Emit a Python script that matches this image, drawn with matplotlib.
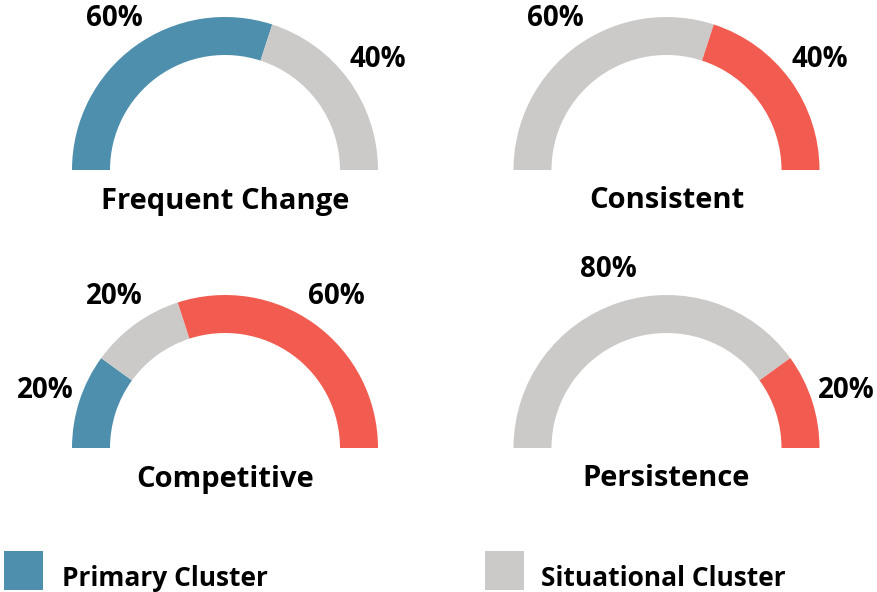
import numpy as np
import matplotlib.pyplot as plt
from matplotlib.patches import Rectangle

plt.rcParams['font.family'] = ['Open Sans', 'DejaVu Sans']

titles = ['Frequent Change', 'Consistent', 'Competitive', 'Persistence']
primary = [60, 0, 20, 0]
situational = [40, 60, 20, 80]
other = [0, 40, 60, 20]
legend_names = ['Primary Cluster', 'Situational Cluster']

c_primary = '#4d8fac'
c_situational = '#cbcac8'
c_other = '#f25c50'

W, H = 878, 592
fig = plt.figure(figsize=(W / 100, H / 100), dpi=100)
ax = fig.add_axes([0, 0, 1, 1])

# gauge centres in pixel space (y measured from the bottom)
centres = [(225, H - 170), (666.5, H - 170), (225, H - 448), (666.5, H - 448)]
R, width = 153, 38

for k, title in enumerate(titles):
    vals = [primary[k], situational[k], other[k]]
    cols = [c_primary, c_situational, c_other]
    keep = [(v, c) for v, c in zip(vals, cols) if v > 0]
    v_list = [v for v, _ in keep]
    c_list = [c for _, c in keep]
    total = sum(v_list)
    cx, cy = centres[k]
    wedges, _ = ax.pie(v_list + [total], colors=c_list + ['white'], startangle=180,
                       counterclock=False, radius=R, center=(cx, cy),
                       wedgeprops=dict(width=width, linewidth=0))
    wedges[-1].set_visible(False)
    # labels at segment midpoints
    start = 180.0
    for v in v_list:
        span = 180.0 * v / total
        mid = np.deg2rad(start - span / 2)
        ax.text(cx + 189 * np.cos(mid), cy + 189 * np.sin(mid) - 1, '%d%%' % v,
                ha='center', va='center', fontsize=20, fontweight='bold', color='black')
        start -= span
    ax.text(cx, cy - 31, title, ha='center', va='center', fontsize=21,
            fontweight='bold', color='black')

# legend
for x0, tx, col, name in [(4, 62, c_primary, legend_names[0]),
                          (485, 541, c_situational, legend_names[1])]:
    ax.add_patch(Rectangle((x0, H - 590), 39, 39, color=col, lw=0))
    ax.text(tx, H - 579, name, ha='left', va='center', fontsize=19,
            fontweight='bold', color='black')

ax.set_xlim(0, W)
ax.set_ylim(0, H)
ax.set_aspect('auto')
ax.axis('off')

fig.savefig('out.png', dpi=100)
